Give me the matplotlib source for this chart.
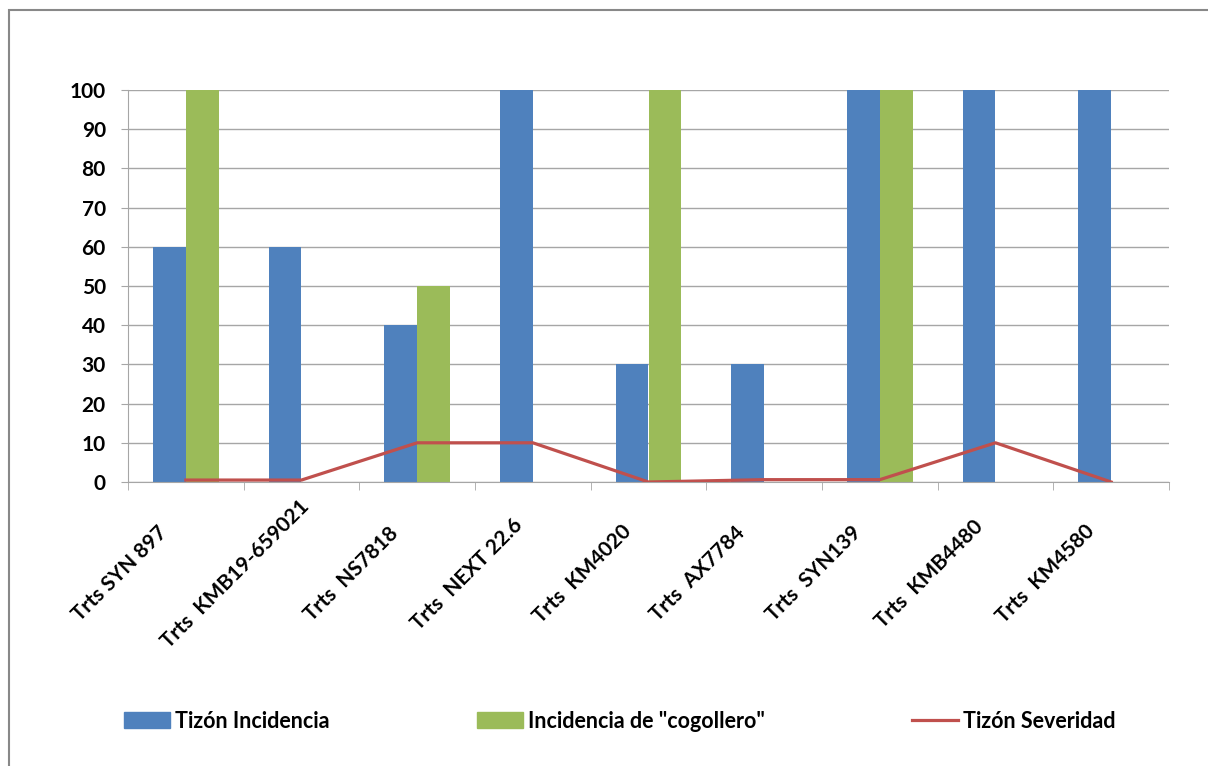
import matplotlib.pyplot as plt
import matplotlib.transforms as mtransforms
import numpy as np
from matplotlib.patches import Rectangle, Patch
from matplotlib.lines import Line2D

categories = ['Trts SYN 897', 'Trts  KMB19-659021', 'Trts  NS7818', 'Trts  NEXT 22.6',
              'Trts  KM4020', 'Trts  AX7784', 'Trts  SYN139', 'Trts  KMB4480', 'Trts  KM4580']
tizon_incidencia = [60, 60, 40, 100, 30, 30, 100, 100, 100]
cogollero = [100, 0, 50, 0, 100, 0, 100, 0, 0]
tizon_severidad = [0.5, 0.5, 10, 10, 0, 0.6, 0.6, 10, 0]

blue, green, red = '#4f81bd', '#9bbb59', '#c0504d'

plt.rcParams['font.family'] = ['Lato', 'DejaVu Sans']

fig = plt.figure(figsize=(12.08, 7.66), dpi=100)
fig.patches.append(Rectangle((9 / 1208, -0.1), 1.2, 1 - 10 / 766 + 0.1, transform=fig.transFigure,
                             fill=False, edgecolor='#888888', linewidth=1.5))
ax = fig.add_axes([128 / 1208, 1 - 482 / 766, (1169 - 128) / 1208, (482 - 90) / 766])

x = np.arange(len(categories))
w = 0.285
ax.bar(x - w / 2, tizon_incidencia, w, color=blue, zorder=2)
ax.bar(x + w / 2, cogollero, w, color=green, zorder=2)
ax.plot(x, tizon_severidad, color=red, linewidth=2.3, zorder=3)

ax.set_xlim(-0.5, len(categories) - 0.5)
ax.set_ylim(0, 100)
ax.set_yticks(range(0, 101, 10))
ax.yaxis.grid(True, color='#a6a6a6', linewidth=1)
ax.set_axisbelow(True)
for s in ['top', 'right']:
    ax.spines[s].set_visible(False)
ax.spines['left'].set_color('#a6a6a6')
ax.spines['bottom'].set_color('#a6a6a6')

# category labels: centred text, shifted down-left of each category centre
ax.set_xticks(x)
ax.set_xticklabels(categories, rotation=45, ha='center', va='center', rotation_mode='anchor',
                   fontsize=15, fontweight='bold')
ax.tick_params(axis='x', which='major', length=0, pad=0)
offset = mtransforms.ScaledTranslation(-0.66, -0.92, fig.dpi_scale_trans)
for t in ax.get_xticklabels():
    t.set_transform(t.get_transform() + offset)
ax.set_xticks(np.arange(-0.5, len(categories), 1), minor=True)
ax.tick_params(axis='x', which='minor', length=6, color='#a6a6a6')
ax.tick_params(axis='y', length=5, color='#a6a6a6', labelsize=15, pad=11)
for t in ax.get_yticklabels():
    t.set_fontweight('bold')

handles = [Patch(color=blue), Patch(color=green), Line2D([], [], color=red, linewidth=2.3)]
labels = ['Tizón Incidencia', 'Incidencia de "cogollero"', 'Tizón Severidad']
fig.legend(handles, labels, loc='center', bbox_to_anchor=(619.5 / 1208, 1 - 721 / 766), ncol=3,
           frameon=False, prop={'size': 15.5, 'weight': 'bold'}, handlelength=2.14,
           handletextpad=0.23, columnspacing=6.85)

fig.savefig('out.png', dpi=100)
